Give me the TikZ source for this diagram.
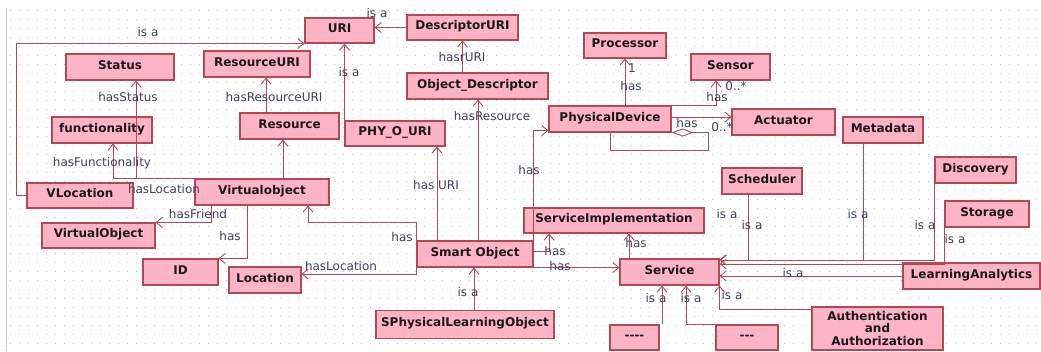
\documentclass[tikz,border=0pt]{standalone}
\usepackage{fontspec}
\setmainfont{DejaVu Sans}
\usetikzlibrary{arrows.meta}

\definecolor{boxfill}{RGB}{255,180,198}
\definecolor{boxline}{RGB}{176,72,86}
\definecolor{linkcol}{RGB}{176,72,86}
\definecolor{labelcol}{RGB}{60,64,88}

\begin{document}
\begin{tikzpicture}[x=1pt, y=-1pt,
            cls/.style={draw=boxline, fill=boxfill, line width=1.1pt, inner sep=0pt,
                text height=9pt, text depth=5pt,
                font=\fontsize{12}{12.5}\selectfont\bfseries, text=black!90},
            link/.style={draw=linkcol, line width=0.9pt, -{Straight Barb[length=6pt,width=10pt]}},
            lbl/.style={font=\fontsize{12}{14}\selectfont, text=labelcol, inner sep=0pt},
            dotgrid/.style={draw=black!22, line width=1pt, dash pattern=on 1pt off 8pt}]
            \useasboundingbox (0,0) rectangle (1041,351);
            % background grid
            \foreach \gy in {10,19,...,349}
                \draw[dotgrid] (10,\gy) -- (1041,\gy);
            \draw[black!20] (6.5,8) -- (6.5,351);

            % classes
            \node[cls, minimum width=69pt, minimum height=25pt] (uri) at (339.5,30.5) {URI};
            \node[cls, minimum width=111pt, minimum height=25pt] (descuri) at (462.5,27.5) {DescriptorURI};
            \node[cls, minimum width=108pt, minimum height=26pt] (status) at (120,67) {Status};
            \node[cls, minimum width=106pt, minimum height=26pt] (resuri) at (257,64) {ResourceURI};
            \node[cls, minimum width=141pt, minimum height=26pt] (objdesc) at (477.5,86) {Object\_Descriptor};
            \node[cls, minimum width=82pt, minimum height=25pt] (processor) at (625,45.5) {Processor};
            \node[cls, minimum width=79pt, minimum height=26pt] (sensor) at (730.5,67) {Sensor};
            \node[cls, minimum width=100pt, minimum height=26pt] (func) at (102,130) {functionality};
            \node[cls, minimum width=99pt, minimum height=26pt] (resource) at (289.5,126) {Resource};
            \node[cls, minimum width=100pt, minimum height=25pt] (phyuri) at (395,133.5) {PHY\_O\_URI};
            \node[cls, minimum width=122pt, minimum height=26pt] (physdev) at (610,119) {PhysicalDevice};
            \node[cls, minimum width=103pt, minimum height=26pt] (actuator) at (783.5,122) {Actuator};
            \node[cls, minimum width=80pt, minimum height=26pt] (metadata) at (883,130) {Metadata};
            \node[cls, minimum width=81pt, minimum height=26pt] (discovery) at (975.5,170) {Discovery};
            \node[cls, minimum width=84pt, minimum height=26pt] (storage) at (987,214) {Storage};
            \node[cls, minimum width=80pt, minimum height=26pt] (scheduler) at (762,181) {Scheduler};
            \node[cls, minimum width=180pt, minimum height=25pt] (servimpl) at (614,220.5) {ServiceImplementation};
            \node[cls, minimum width=106pt, minimum height=25pt] (vloc) at (80,195.5) {VLocation};
            \node[cls, minimum width=134pt, minimum height=26pt] (virtobj) at (262,192) {Virtualobject};
            \node[cls, minimum width=113pt, minimum height=25pt] (friend) at (98.5,235.5) {VirtualObject};
            \node[cls, minimum width=75pt, minimum height=26pt] (id) at (180.5,272) {ID};
            \node[cls, minimum width=72pt, minimum height=26pt] (location) at (265,280) {Location};
            \node[cls, minimum width=116pt, minimum height=26pt] (smart) at (475,254) {Smart Object};
            \node[cls, minimum width=99pt, minimum height=26pt] (service) at (669.5,272) {Service};
            \node[cls, minimum width=137pt, minimum height=26pt] (analytics) at (971.5,276) {LearningAnalytics};
            \node[cls, minimum width=178pt, minimum height=28pt] (splo) at (465,324.5) {SPhysicalLearningObject};
            \node[cls, minimum width=49pt, minimum height=25pt] (other1) at (634.5,337.5) {{-}{-}{-}{-}};
            \node[cls, minimum width=62pt, minimum height=25pt] (other2) at (747,337.5) {{-}{-}{-}};
            \node[cls, minimum width=131pt, minimum height=43pt, align=center,
                text height=, text depth=] (auth) at (877.5,328.5) {Authentication\\and\\Authorization};

            % links to URI
            \draw[link] (vloc.west) -- ++(-10,0) |- (uri.south west);
            \draw[link] (descuri.west) -- (uri.east |- descuri.west);
            \draw[link] (phyuri.north west) -- (phyuri.north west |- uri.south);
            \draw[link] (objdesc.north -| descuri.south) -- (descuri.south);

            % Virtualobject
            \draw[link] (266,0 |- resource.north) -- (266,0 |- resuri.south);
            \draw[link] (283,0 |- virtobj.north) -- (283,0 |- resource.south);
            \draw[link] (virtobj.north west) -- (136,0 |- virtobj.north) -- (136,0 |- status.south);
            \draw[link] (virtobj.north west) -- (113,0 |- virtobj.north) -- (113,0 |- func.south);
            \draw[link] (211,0 |- virtobj.south) |- (friend.north east);
            \draw[link] (247,0 |- virtobj.south) |- (id.north east);

            % Smart Object
            \draw[link] (smart.north west) -- ++(0,-18) -| (308,0 |- virtobj.south);
            \draw[link] (smart.south west) |- ([yshift=6pt]location.east);
            \draw[link] (437,0 |- smart.north) -- (437,0 |- phyuri.south);
            \draw[link] (478,0 |- smart.north) -- (478,0 |- objdesc.south);
            \draw[link] (smart.north east) |- ([yshift=2pt]physdev.south west);
            \draw[link] ([yshift=3pt]smart.east) -| (549,0 |- servimpl.south);
            \draw[link] (smart.south east) -- (service.west |- smart.south east);
            \draw[link] (474,0 |- splo.north) -- (474,0 |- smart.south);

            % PhysicalDevice
            \draw[link] (physdev.north -| processor.south) -- (processor.south);
            \draw[link] (physdev.north east) -| (716,0 |- sensor.south);
            \draw[link] (physdev.east |- 0,117) -- (actuator.west |- 0,117);
            \draw[linkcol, line width=0.9pt, {Diamond[open, length=22pt, width=8pt]}-]
                (physdev.south east) -- ++(37,0) |- ([yshift=-18pt]physdev.south) -- (physdev.south);

            % Service
            \draw[link] (629,0 |- service.north) -- (629,0 |- servimpl.south);
            \draw[link] (748,0 |- scheduler.south) |- ([yshift=12pt]service.east);
            \draw[link] (863,0 |- metadata.south) |- ([yshift=12pt]service.east);
            \draw[link] (discovery.south west) |- ([yshift=12pt]service.east);
            \draw[link] (storage.south west) |- ([yshift=8pt]service.east);
            \draw[link] (analytics.west) -- (service.east |- analytics.west);
            \draw[link] (662,0 |- other1.north) -- (662,0 |- service.south);
            \draw[link] (other2.north west) -- (686,0 |- other2.north) -- (686,0 |- service.south);
            \draw[link] ([yshift=-3pt]auth.north west) -| (service.south east);

            % labels
            \node[lbl] (l1) at (148,32) {is a};
            \node[lbl] (l2) at (377,13) {is a};
            \node[lbl] (l3) at (349,72) {is a};
            \node[lbl] (l4) at (462,57) {hasrURI};
            \node[lbl] (l5) at (128,97) {hasStatus};
            \node[lbl] (l6) at (274,97) {hasResourceURI};
            \node[lbl] (l7) at (102,163) {hasFunctionality};
            \node[lbl] (l8) at (164,189) {hasLocation};
            \node[lbl] (l9) at (198,214) {hasFriend};
            \node[lbl] (l10) at (230,236) {has};
            \node[lbl] (l11) at (402,237) {has};
            \node[lbl] (l12) at (341,266) {hasLocation};
            \node[lbl] (l13) at (436,185) {has URI};
            \node[lbl] (l14) at (492,116) {hasResource};
            \node[lbl] (l15) at (529,170) {has};
            \node[lbl] (l16) at (555,251) {has};
            \node[lbl] (l17) at (560,266) {has};
            \node[lbl] (l18) at (636,243) {has};
            \node[lbl] (l19) at (632,68) {1};
            \node[lbl] (l20) at (631,86) {has};
            \node[lbl] (l21) at (736,86) {0..*};
            \node[lbl] (l22) at (717,97) {has};
            \node[lbl] (l23) at (687,123) {has};
            \node[lbl] (l24) at (722,127) {0..*};
            \node[lbl] (l25) at (727,214) {is a};
            \node[lbl] (l26) at (752,225) {is a};
            \node[lbl] (l27) at (858,214) {is a};
            \node[lbl] (l28) at (925,225) {is a};
            \node[lbl] (l29) at (955,239) {is a};
            \node[lbl] (l30) at (793,273) {is a};
            \node[lbl] (l31) at (656,298) {is a};
            \node[lbl] (l32) at (691,298) {is a};
            \node[lbl] (l33) at (732,295) {is a};
            \node[lbl] (l34) at (468,292) {is a};
\end{tikzpicture}
\end{document}
